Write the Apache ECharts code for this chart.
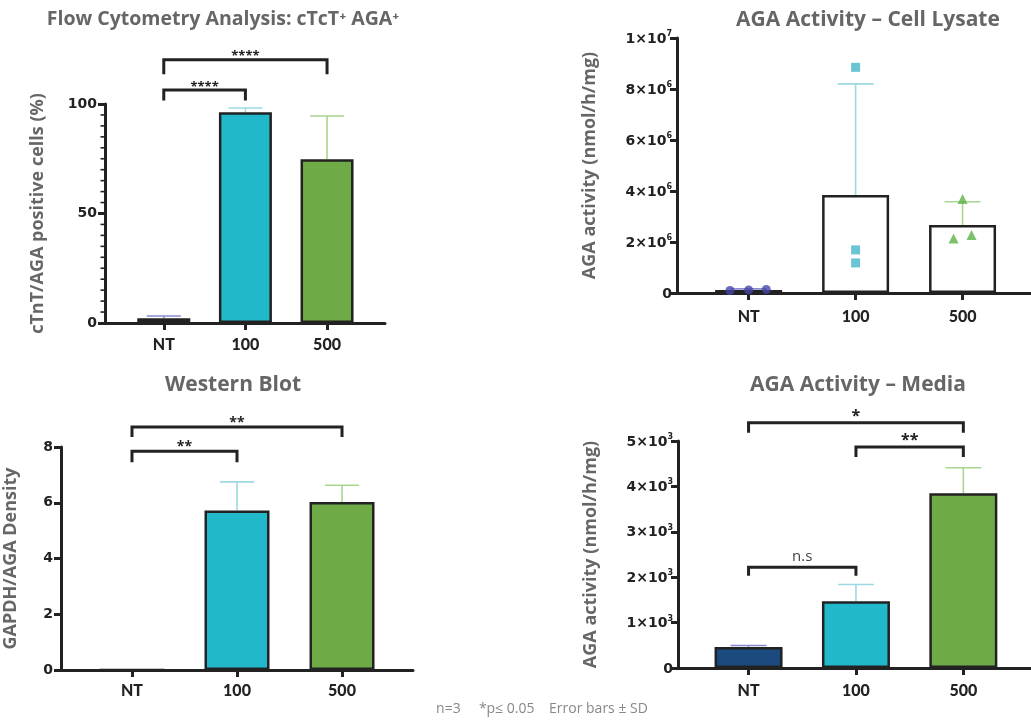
<!DOCTYPE html>
<html><head><meta charset="utf-8">
<script src="https://cdn.jsdelivr.net/npm/echarts@6/dist/echarts.min.js"></script>
<style>html,body{margin:0;padding:0;background:#fff}#c{width:1031px;height:720px}</style>
</head><body><div id="c"></div>
<script>
// ---------------- data ----------------
const categories = ['NT', '100', '500'];

const flowMeans = [2.2, 96.2, 74.8];
const flowSD = [1.0, 2.0, 19.7];
const flowComparisons = [[0, 1, '****'], [0, 2, '****']];
const flowMinorTicks = [5, 10, 15, 20, 25, 30, 35, 40, 45, 55, 60, 65, 70, 75, 80, 85, 90, 95];

const lysateMeans = [0.12e6, 3.84e6, 2.67e6];
const lysateSD = [0.04e6, 4.36e6, 0.91e6];
const lysateNT = [0.10e6, 0.12e6, 0.14e6];
const lysate100 = [8.85e6, 1.69e6, 1.18e6];
const lysate500 = [3.69e6, 2.14e6, 2.27e6];

const westernMeans = [0, 5.72, 6.03];
const westernSD = [0, 1.03, 0.6];
const westernComparisons = [[0, 1, '**'], [0, 2, '**']];

const mediaMeans = [465, 1470, 3850];
const mediaSD = [30, 370, 560];
const mediaComparisons = [[0, 1, 'n.s'], [1, 2, '**'], [0, 2, '*']];

const footnote = 'n=3     *p\u2264 0.05    Error bars \u00b1 SD';

// ---------------- layout & style ----------------
const FONT = 'Lato, "DejaVu Sans", sans-serif';
const TFONT = '"Open Sans", Lato, sans-serif';
const NFONT = '"DejaVu Sans", sans-serif';
const INK = '#222';
const GRAY = '#666';
const catPos = [0, 1, 2];

const flowColors = ['#2c2e63', '#22b8cc', '#6eab47'];
const flowErr = ['#8a8ad0', '#9ed9e3', '#a9d68e'];
const mediaColors = ['#1b4a7e', '#22b8cc', '#6eab47'];
const mediaErr = ['#8a8ad0', '#9ed9e3', '#a9d68e'];

const grids = [
  {left: 105, top: 104, width: 280, height: 219},
  {left: 677, top: 38, width: 356, height: 255},
  {left: 61, top: 447, width: 352, height: 223},
  {left: 678, top: 441, width: 355, height: 227}
];
const xRanges = [[-0.72, 2.71], [-0.67, 2.64], [-0.676, 2.676], [-0.657, 2.63]];
const xLabelMargin = [14, 16, 13, 15];

const flowLevels = [[106.4, 101.6], [120.2, 113.6]];
const westernLevels = [[7.85, 7.45], [8.72, 8.36]];
const mediaLevels = [[2220, 2030], [4870, 4650], [5400, 5180]];
const lysateJitter = {nt: [-0.175, 0, 0.165], h: [0, 0, 0], f: [0, -0.084, 0.084]};

function supFmt(v) {
  if (v === 0) return '{b|0}';
  const e = Math.floor(Math.log10(v) + 1e-9);
  const m = Math.round(v / Math.pow(10, e));
  return '{b|' + m + '\u00d710}{s|' + e + '}';
}
const supRich = {
  b: {fontSize: 14, fontWeight: 'bold', color: INK, fontFamily: NFONT, lineHeight: 16, verticalAlign: 'bottom'},
  s: {fontSize: 8, fontWeight: 'bold', color: INK, fontFamily: NFONT, lineHeight: 16, verticalAlign: 'top', padding: [0, 0, 6, 0]}
};

function makeX(i) {
  return {
    type: 'value', gridIndex: i, min: xRanges[i][0], max: xRanges[i][1],
    splitLine: {show: false},
    axisLine: {show: true, onZero: false, lineStyle: {color: INK, width: 3}},
    axisTick: {show: true, customValues: catPos, length: 7, lineStyle: {color: INK, width: 3}},
    axisLabel: {customValues: catPos, formatter: v => categories[Math.round(v)], margin: xLabelMargin[i],
      color: INK, fontWeight: 900, fontSize: 16, fontFamily: FONT}
  };
}
function makeY(i, max, interval, name, gap, opts) {
  const y = {
    type: 'value', gridIndex: i, min: 0, max: max, interval: interval,
    name: name, nameLocation: 'middle', nameGap: gap,
    nameTextStyle: {color: GRAY, fontWeight: 'bold', fontSize: 18, fontFamily: TFONT},
    splitLine: {show: false},
    axisLine: {show: true, onZero: false, lineStyle: {color: INK, width: 3}},
    axisTick: {show: true, length: 7, lineStyle: {color: INK, width: 3}},
    axisLabel: {color: INK, fontWeight: 'bold', fontSize: 14, fontFamily: NFONT, margin: 8}
  };
  return Object.assign(y, opts || {});
}

function minorTickSeries(gi, ticks, len) {
  return {
    type: 'custom', xAxisIndex: gi, yAxisIndex: gi, z: 4, clip: false, silent: true, animation: false,
    data: ticks.map(v => [xRanges[gi][0], v]),
    renderItem(params, api) {
      const p = api.coord([api.value(0), api.value(1)]);
      return {type: 'line', shape: {x1: p[0] - len, y1: p[1], x2: p[0], y2: p[1]}, style: {stroke: INK, lineWidth: 1.6}};
    }
  };
}
function barSeries(gi, means, fills, width) {
  return {
    type: 'bar', xAxisIndex: gi, yAxisIndex: gi, barWidth: width, z: 3,
    data: means.map((v, k) => ({value: [catPos[k], v], itemStyle: {color: fills[k]}})),
    itemStyle: {borderColor: INK, borderWidth: 2.5}, silent: true, animation: false
  };
}
function errSeries(gi, means, sds, colors, half) {
  return {
    type: 'custom', xAxisIndex: gi, yAxisIndex: gi, z: 2, clip: false, silent: true, animation: false,
    data: means.map((m, k) => [catPos[k], m, m + sds[k]]),
    encode: {x: 0, y: [1, 2]},
    renderItem(params, api) {
      if (sds[params.dataIndex] === 0) return null;
      const p0 = api.coord([api.value(0), api.value(1)]);
      const p1 = api.coord([api.value(0), api.value(2)]);
      const st = {stroke: colors[params.dataIndex], lineWidth: 1.6};
      return {type: 'group', children: [
        {type: 'line', shape: {x1: p0[0], y1: p0[1], x2: p1[0], y2: p1[1]}, style: st},
        {type: 'line', shape: {x1: p1[0] - half, y1: p1[1], x2: p1[0] + half, y2: p1[1]}, style: st}
      ]};
    }
  };
}
function bracketSeries(gi, comps, levels, fs, gaps) {
  return {
    type: 'custom', xAxisIndex: gi, yAxisIndex: gi, z: 5, clip: false, silent: true, animation: false,
    data: comps.map((c, k) => [catPos[c[0]], catPos[c[1]], levels[k][0], levels[k][1]]),
    encode: {x: [0, 1], y: [2, 3]},
    renderItem(params, api) {
      const a = api.coord([api.value(0), api.value(2)]);
      const b = api.coord([api.value(1), api.value(2)]);
      const ta = api.coord([api.value(0), api.value(3)]);
      const tb = api.coord([api.value(1), api.value(3)]);
      const label = comps[params.dataIndex][2];
      const isStar = label.indexOf('*') >= 0;
      return {type: 'group', children: [
        {type: 'polyline', shape: {points: [ta, a, b, tb]}, style: {stroke: INK, lineWidth: 3, fill: 'none'}},
        {type: 'text', style: {text: label, x: (a[0] + b[0]) / 2, y: a[1] - (isStar ? gaps[0] : gaps[1]),
          align: 'center', verticalAlign: 'middle', fontSize: isStar ? fs : 15, fontFamily: TFONT,
          fontWeight: isStar ? 'bold' : 'normal', fill: isStar ? INK : '#444'}}
      ]};
    }
  };
}
function pointSeries(gi, vals, jit, pos, symbol, color, size) {
  return {
    type: 'scatter', xAxisIndex: gi, yAxisIndex: gi, z: 6, symbol: symbol, symbolSize: size,
    itemStyle: {color: color}, silent: true, animation: false,
    data: vals.map((v, k) => [pos + jit[k], v])
  };
}

const titleStyle = {color: GRAY, fontWeight: 'bold', fontSize: 21, fontFamily: TFONT};

const option = {
  animation: false,
  backgroundColor: '#fff',
  title: [
    {text: 'Flow Cytometry Analysis: cTcT\u207a AGA\u207a', left: 218, top: 4, textAlign: 'center',
      textStyle: Object.assign({}, titleStyle, {fontSize: 19.5})},
    {text: 'AGA Activity \u2013 Cell Lysate', left: 863, top: 5, textAlign: 'center', textStyle: titleStyle},
    {text: 'Western Blot', left: 228, top: 370, textAlign: 'center', textStyle: titleStyle},
    {text: 'AGA Activity \u2013 Media', left: 853, top: 370, textAlign: 'center', textStyle: titleStyle},
    {text: footnote, left: 537, top: 697, textAlign: 'center',
      textStyle: {color: '#888', fontWeight: 'normal', fontSize: 14, fontFamily: TFONT}}
  ],
  grid: grids,
  xAxis: [makeX(0), makeX(1), makeX(2), makeX(3)],
  yAxis: [
    makeY(0, 100, 50, 'cTnT/AGA positive cells (%)', 58),
    makeY(1, 1e7, 2e6, 'AGA activity (nmol/h/mg)', 78, {
      axisLabel: {formatter: supFmt, rich: supRich, margin: 5}
    }),
    makeY(2, 8, 2, 'GAPDH/AGA Density', 41),
    makeY(3, 5000, 1000, 'AGA activity (nmol/h/mg)', 78, {
      axisLabel: {formatter: supFmt, rich: supRich, margin: 5}
    })
  ],
  series: [
    minorTickSeries(0, flowMinorTicks, 4.5),
    errSeries(0, flowMeans, flowSD, flowErr, 17),
    barSeries(0, flowMeans, flowColors, 53),
    bracketSeries(0, flowComparisons, flowLevels, 13, [3, 8]),

    errSeries(1, lysateMeans, lysateSD, flowErr, 18),
    barSeries(1, lysateMeans, ['#fff', '#fff', '#fff'], 67),
    pointSeries(1, lysateNT, lysateJitter.nt, 0, 'circle', '#4646a8', 9),
    pointSeries(1, lysate100, lysateJitter.h, 1, 'rect', '#44b6c9', 9),
    pointSeries(1, lysate500, lysateJitter.f, 2, 'triangle', '#5bb246', 10),

    errSeries(2, westernMeans, westernSD, flowErr, 17),
    barSeries(2, westernMeans, flowColors, 65),
    bracketSeries(2, westernComparisons, westernLevels, 14, [4, 8]),

    errSeries(3, mediaMeans, mediaSD, mediaErr, 18),
    barSeries(3, mediaMeans, mediaColors, 68),
    bracketSeries(3, mediaComparisons, mediaLevels, 16, [6, 10])
  ]
};

const chart = echarts.init(document.getElementById('c'), null, {renderer: 'canvas'});
chart.setOption(option);
</script>
</body></html>
